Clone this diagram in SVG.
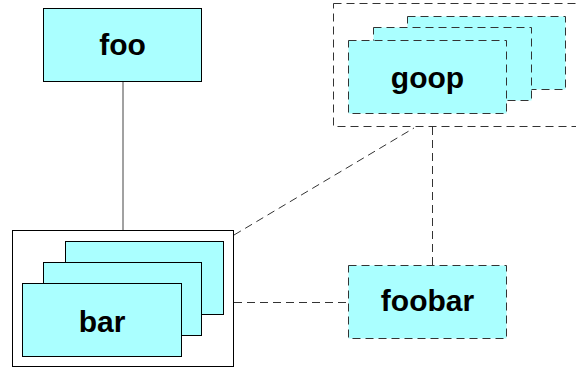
<svg xmlns="http://www.w3.org/2000/svg" width="576" height="370" viewBox="0 0 576 370">
<style>
.card{fill:#aaffff;stroke:#000;stroke-width:1}
.dcard{fill:#aaffff;stroke:#333;stroke-width:1;stroke-dasharray:8,5}
.frame{fill:#fff;stroke:#000;stroke-width:1}
.dframe{fill:#fff;stroke:#333;stroke-width:1;stroke-dasharray:8,5}
.lbl{font-family:"Liberation Sans",Arial,sans-serif;font-weight:bold;font-size:30px;fill:#000;text-anchor:middle}
.solid{stroke:#444;stroke-width:1;fill:none}
.dash{stroke:#333;stroke-width:1;fill:none;stroke-dasharray:8,5}
</style>
<rect width="576" height="370" fill="#fff"/>
<g id="connectors">
<line class="solid" x1="123" y1="82" x2="123" y2="230"/>
<line class="dash" x1="234" y1="235" x2="414" y2="128"/>
<line class="dash" x1="432.5" y1="127" x2="432.5" y2="265"/>
<line class="dash" x1="234" y1="302.5" x2="348" y2="302.5"/>
</g>
<g id="foo">
<rect class="card" x="43.5" y="8.5" width="158" height="73"/>
<text class="lbl" x="122.5" y="55">foo</text>
</g>
<g id="bar">
<rect class="frame" x="12.5" y="230.5" width="221" height="136"/>
<rect class="card" x="65.5" y="241.5" width="158" height="73"/>
<rect class="card" x="43.5" y="262.5" width="158" height="73"/>
<rect class="card" x="22.5" y="283.5" width="159" height="73"/>
<text class="lbl" x="102" y="332">bar</text>
</g>
<g id="goop">
<rect class="dframe" x="333.5" y="3.5" width="250" height="123"/>
<rect class="dcard" x="407.5" y="16.5" width="158" height="73"/>
<rect class="dcard" x="373.5" y="27.5" width="158" height="73"/>
<rect class="dcard" x="348.5" y="40.5" width="158" height="73"/>
<text class="lbl" x="427.5" y="88">goop</text>
</g>
<g id="foobar">
<rect class="dcard" x="348.5" y="265.5" width="158" height="73"/>
<text class="lbl" x="427.5" y="311">foobar</text>
</g>
</svg>
